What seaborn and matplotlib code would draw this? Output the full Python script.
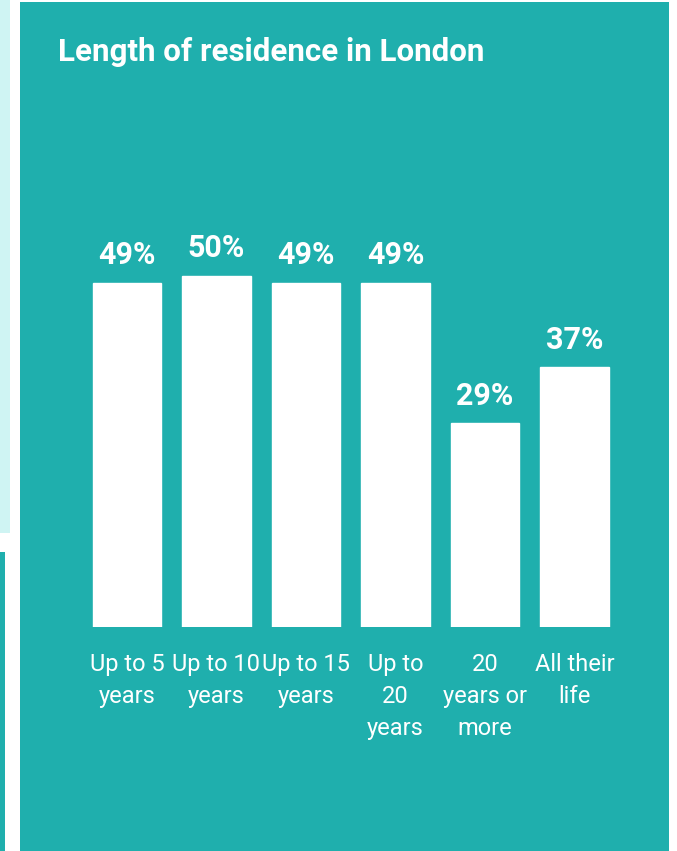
import matplotlib
matplotlib.use("Agg")
import matplotlib.pyplot as plt
import seaborn as sns
import pandas as pd
from matplotlib.patches import Rectangle

# Chart data
categories = ["Up to 5\nyears", "Up to 10\nyears", "Up to 15\nyears",
              "Up to\n20\nyears", "20\nyears or\nmore", "All their\nlife"]
values = [49, 50, 49, 49, 29, 37]
value_labels = ["49%", "50%", "49%", "49%", "29%", "37%"]

TEAL = "#1FAFAD"
LIGHT = "#CFF4F3"

sns.set_style("white")
plt.rcParams['font.family'] = ['Roboto', 'DejaVu Sans']

W, H = 677, 851
fig = plt.figure(figsize=(W / 100, H / 100), dpi=100)
fig.patch.set_facecolor("white")

def px_rect(x0, y0, x1, y1, color):
    # rectangle given in pixel coords (origin top-left)
    fig.add_artist(Rectangle((x0 / W, 1 - y1 / H), (x1 - x0) / W, (y1 - y0) / H,
                             transform=fig.transFigure, facecolor=color,
                             edgecolor="none", zorder=0))

# background panels
px_rect(0, 0, 10, 533, LIGHT)
px_rect(0, 552, 5, 851, TEAL)
px_rect(20, 2, 669, 851, TEAL)

fig.text(58 / W, 1 - 52 / H, "Length of residence in London", color="white",
         fontsize=22.5, fontweight="bold", va="center", ha="left")

ax = fig.add_axes([82.25 / W, 1 - 627 / H, 537 / W, 527 / H])
ax.set_facecolor("none")

df = pd.DataFrame({"category": categories, "value": values})
sns.barplot(data=df, x="category", y="value", color="white", saturation=1,
            width=0.76, ax=ax)

ax.set_xlim(-0.5, 5.5)
ax.set_ylim(0, 75)
sns.despine(ax=ax, left=True, bottom=True)
ax.set_yticks([])
ax.set_xlabel("")
ax.set_ylabel("")
ax.tick_params(axis="x", length=0, pad=18.5, colors="white")
for lbl in ax.get_xticklabels():
    lbl.set_fontsize(17)
    lbl.set_fontweight("normal")
    lbl.set_linespacing(1.5)
    lbl.set_verticalalignment("top")

for i, (v, txt) in enumerate(zip(values, value_labels)):
    ax.annotate(txt, (i, v), xytext=(0, 9), textcoords="offset points",
                ha="center", va="bottom", color="white", fontsize=22,
                fontweight="bold")

fig.savefig("out.png", dpi=100, facecolor=fig.get_facecolor())
